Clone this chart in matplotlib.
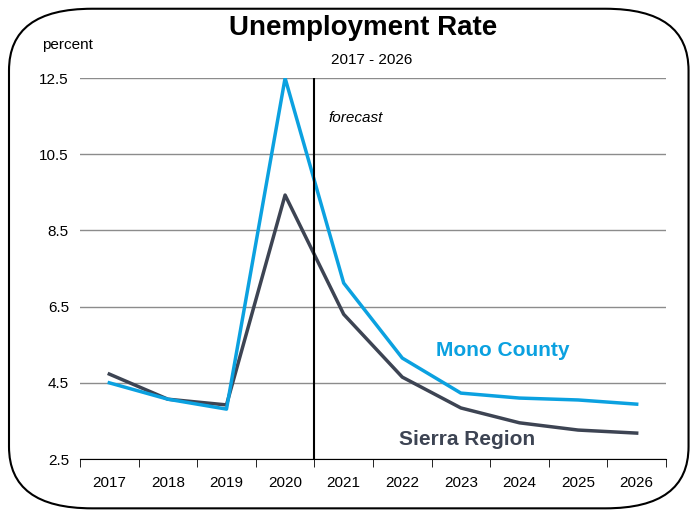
# plot.py
# Unemployment rate chart, Mono County vs Sierra Region, 2017 - 2026

import matplotlib.pyplot as plt
from matplotlib.patches import FancyBboxPatch

years = ["2017", "2018", "2019", "2020", "2021", "2022", "2023", "2024", "2025", "2026"]
mono_county = [4.5, 4.07, 3.81, 12.5, 7.12, 5.15, 4.23, 4.1, 4.05, 3.94]
sierra_region = [4.73, 4.07, 3.92, 9.43, 6.3, 4.65, 3.84, 3.45, 3.26, 3.18]
y_ticks = [2.5, 4.5, 6.5, 8.5, 10.5, 12.5]

MONO_COLOR = "#0ba1e0"
SIERRA_COLOR = "#3d4453"

plt.rcParams["font.family"] = ["Liberation Sans Narrow", "Liberation Sans", "DejaVu Sans"]

fig = plt.figure(figsize=(6.92, 5.14), dpi=100)

# Rounded frame around the whole chart
frame = FancyBboxPatch(
    (0.013, 0.011), 0.982, 0.972,
    boxstyle="round,pad=0,rounding_size=0.12",
    transform=fig.transFigure, fill=False, edgecolor="black", linewidth=1.5,
)
fig.patches.append(frame)

ax = fig.add_axes([0.1156, 0.107, 0.8468, 0.741])

x = list(range(len(years)))
ax.plot(x, sierra_region, color=SIERRA_COLOR, linewidth=2.5, zorder=3)
ax.plot(x, mono_county, color=MONO_COLOR, linewidth=2.5, zorder=4)

ax.set_xlim(-0.5, len(years) - 0.5)
ax.set_ylim(2.5, 12.5)
ax.set_yticks(y_ticks)
ax.set_yticklabels([f"{v:.1f}" for v in y_ticks], fontsize=11)
ax.yaxis.grid(True, color="#8c8c8c", linewidth=1)
ax.set_axisbelow(True)

# Category labels centred, tick marks on category boundaries
ax.set_xticks(x)
ax.set_xticklabels(years, fontsize=11)
ax.tick_params(axis="x", which="major", length=0, pad=12)
ax.set_xticks([i - 0.5 for i in range(len(years) + 1)], minor=True)
ax.tick_params(axis="x", which="minor", length=6, direction="out", color="black")
ax.tick_params(axis="y", length=0, pad=8)

for side in ["left", "right", "top"]:
    ax.spines[side].set_visible(False)
ax.spines["bottom"].set_color("black")

# Forecast divider
ax.axvline(3.5, color="black", linewidth=1.5, zorder=5)
ax.text(3.74, 11.45, "forecast", fontsize=11, style="italic", va="center")

ax.text(6.72, 5.35, "Mono County", color=MONO_COLOR, fontsize=15,
        fontweight="bold", ha="center", va="center")
ax.text(6.1, 3.0, "Sierra Region", color=SIERRA_COLOR, fontsize=15,
        fontweight="bold", ha="center", va="center")

fig.text(0.525, 0.945, "Unemployment Rate", fontsize=20, fontweight="bold",
         ha="center", va="center")
fig.text(0.537, 0.884, "2017 - 2026", fontsize=11, ha="center", va="center")
fig.text(0.097, 0.912, "percent", fontsize=11, ha="center", va="center")

fig.savefig("out.png", dpi=100)
